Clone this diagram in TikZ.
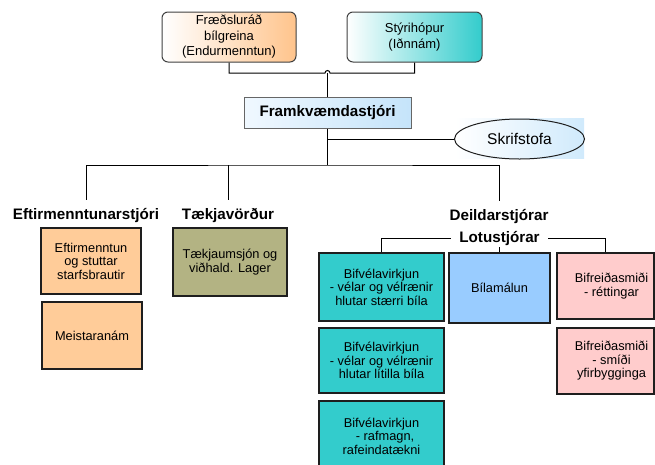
\documentclass[tikz,border=0pt]{standalone}
\usepackage{fontspec}
\setmainfont{Liberation Sans}
\usetikzlibrary{shapes.geometric}
\definecolor{orangeA}{RGB}{255,204,153}
\definecolor{orangeG}{RGB}{255,196,140}
\definecolor{tealA}{RGB}{51,204,204}
\definecolor{oliveA}{RGB}{179,179,131}
\definecolor{blueA}{RGB}{153,204,255}
\definecolor{pinkA}{RGB}{255,204,204}
\definecolor{lblue}{RGB}{197,228,250}
\definecolor{skblue}{RGB}{208,234,252}
\definecolor{lbluew}{RGB}{240,248,255}
\definecolor{edge}{RGB}{30,30,30}
\begin{document}
\begin{tikzpicture}[x=1pt,y=-1pt,
 box/.style={draw=edge, line width=1.2pt, inner sep=0pt, align=center, font=\fontsize{12.8}{13.5}\selectfont},
 topbox/.style={draw=black!75, line width=1pt, rounded corners=6pt, inner sep=0pt, align=center, font=\fontsize{13}{15.5}\selectfont, minimum width=134pt, minimum height=50pt},
 head/.style={font=\fontsize{15.2}{17}\selectfont\bfseries, text height=11pt, text depth=3pt, inner sep=0pt},
 conn/.style={line width=1pt, black}]
\useasboundingbox (0,0) rectangle (655,464);
\clip (0,0) rectangle (655,464);

% top
\node[topbox, left color=white, right color=orangeG] (fr) at (229,37) {Fræðsluráð\\bílgreina\\(Endurmenntun)};
\node[topbox, left color=white, right color=tealA, minimum width=135pt] (st) at (414.5,37) {Stýrihópur\\(Iðnnám)};
\node[draw=black!60, line width=1pt, left color=lbluew, right color=lblue, minimum width=167pt, minimum height=31pt, inner sep=0pt,
  font=\fontsize{15.2}{17}\selectfont\bfseries] (fk) at (327.5,112.5) {Framkvæmdastjóri};

% Skrifstofa
\fill[left color=white, right color=skblue] (455,118) rectangle (584,158);
\node[ellipse, draw=edge, line width=1pt, minimum width=130pt, minimum height=40pt, inner sep=0pt,
  font=\fontsize{15.5}{17}\selectfont] (sk) at (519.5,139) {Skrifstofa};

% headings
\node[head, minimum height=30pt] (em) at (86,215) {Eftirmenntunarstjóri};
\node[head, minimum height=30pt] (tk) at (228,215) {Tækjavörður};
\node[head, minimum height=30pt] (dl) at (499,216) {Deildarstjórar};
\node[head, minimum height=18pt, inner xsep=8pt, minimum width=95pt] (lo) at (499.5,238) {Lotustjórar};

% left boxes
\node[box, fill=orangeA, minimum width=100pt, minimum height=66pt] (b1) at (91,261) {Eftirmenntun\\og stuttar\\starfsbrautir};
\node[box, fill=orangeA, minimum width=100pt, minimum height=67pt] (b2) at (92,335.5) {Meistaranám};
\node[box, fill=oliveA, minimum width=114pt, minimum height=68pt] (b3) at (230,262) {Tækjaumsjón og\\viðhald. Lager};

% right boxes
\node[box, fill=tealA, minimum width=125pt, minimum height=68pt] (c1) at (381.5,287) {Bifvélavirkjun\\- vélar og vélrænir\\hlutar stærri bíla};
\node[box, fill=tealA, minimum width=125pt, minimum height=65pt] (c2) at (381.5,360.5) {Bifvélavirkjun\\- vélar og vélrænir\\hlutar lítilla bíla};
\node[box, fill=tealA, minimum width=125pt, minimum height=70pt] (c3) at (381.5,436) {Bifvélavirkjun\\\ \ - rafmagn,\\rafeindatækni};
\node[box, fill=blueA, minimum width=101pt, minimum height=70pt] (d1) at (499.5,288) {Bílamálun};
\node[box, fill=pinkA, minimum width=97pt, minimum height=66pt] (e1) at (605.5,286) {};
\node[box, draw=none] at ([xshift=6pt]e1.center) {Bifreiðasmiði\\- réttingar};
\node[box, fill=pinkA, minimum width=97pt, minimum height=66pt] (e2) at (605.5,361) {};
\node[box, draw=none] at ([xshift=6pt]e2.center) {Bifreiðasmiði\\- smíði\\yfirbygginga};

% connectors
\coordinate (j1) at (325,73);
\coordinate (hub) at (327.5,165);
\draw[conn] (fr.south) |- (j1) arc[start angle=180, end angle=0, radius=2.5pt] -| (st.south);
\draw[conn] (fk.north) -- (fk.north |- j1);
\draw[line width=1.8pt] (fk.south) -- (hub);
\draw[conn] (fk.south |- sk.west) -- (sk.west);
\draw[conn] (em.north) |- (hub) -| (dl.north);
\draw[conn] (tk.north) -- (tk.north |- hub);
\draw[conn] (c1.north) |- (lo.west);
\draw[conn] (e1.north) |- (lo.east);
\draw[conn] (lo.south) -- (d1.north);
\end{tikzpicture}
\end{document}
